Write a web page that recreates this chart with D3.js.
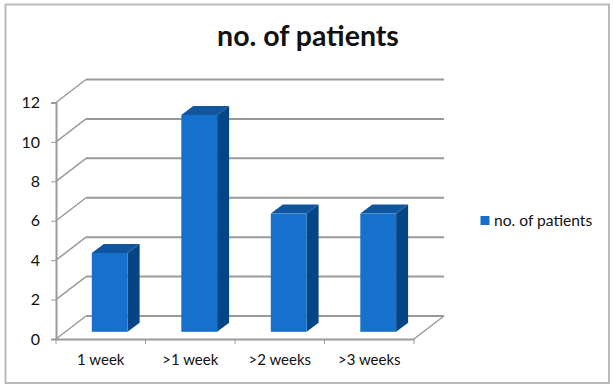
<!DOCTYPE html>
<html>
<head>
<meta charset="utf-8">
<script src="https://cdnjs.cloudflare.com/ajax/libs/d3/7.8.5/d3.min.js"></script>
<style>
html, body { margin: 0; padding: 0; background: #fff; }
svg { display: block; }
text { font-family: Lato, "Open Sans", sans-serif; fill: #111; }
</style>
</head>
<body>
<div id="chart"></div>
<script>
var categories = ["1 week", ">1 week", ">2 weeks", ">3 weeks"];
var patients = [4, 11, 6, 6];
var yTicks = [0, 2, 4, 6, 8, 10, 12];
var seriesName = "no. of patients";

var width = 613, height = 388;
var svg = d3.select("#chart").append("svg")
    .attr("width", width)
    .attr("height", height);

// frame round the chart
svg.append("rect")
    .attr("x", 5.5).attr("y", 4.5)
    .attr("width", 603.5).attr("height", 378.5)
    .attr("fill", "#fff")
    .attr("stroke", "#b9b9b9")
    .attr("stroke-width", 2);

svg.append("text")
    .attr("x", 308).attr("y", 46)
    .attr("text-anchor", "middle")
    .style("font-size", "28.5px")
    .style("font-weight", "700")
    .text(seriesName);

var x = d3.scaleBand().domain(categories).range([56, 414]);
var y = d3.scaleLinear().domain([0, 12]).range([339, 102.5]);

// depth of the box and of the bars
var depthX = 30, depthY = -23;
var barDepthX = 12, barDepthY = -9;
var floorX = 10, floorY = -7.2;

var grid = svg.append("g")
    .attr("fill", "none")
    .attr("stroke", "#9a9a9a")
    .attr("stroke-width", 2);

// floor edge on the right
grid.append("path")
    .attr("stroke-width", 1.5)
    .attr("d", d3.line()([[414, y(0)], [414 + depthX, y(0) + depthY]]));

yTicks.forEach(function(t) {
  // back wall line and the diagonal on the side wall
  grid.append("path")
    .attr("d", d3.line()([[56 + depthX, y(t) + depthY], [414 + depthX, y(t) + depthY]]));
  grid.append("path")
    .attr("stroke-width", 1.5)
    .attr("d", d3.line()([[56, y(t)], [56 + depthX, y(t) + depthY]]));
});

// axes
var yAxis = svg.append("g")
    .attr("transform", "translate(56,0)")
    .call(d3.axisLeft(y).tickValues(yTicks).tickSize(5).tickPadding(11));
yAxis.selectAll("text").style("font-size", "16px").attr("fill", "#111");
yAxis.selectAll("line").attr("stroke", "#9a9a9a");
yAxis.select(".domain").attr("stroke", "#9a9a9a").attr("stroke-width", 2);

var xAxis = svg.append("g")
    .attr("transform", "translate(0," + y(0) + ")")
    .call(d3.axisBottom(x).tickSize(0).tickPadding(15));
xAxis.selectAll("text").style("font-size", "15px").attr("fill", "#111");
xAxis.select(".domain").attr("stroke", "#9a9a9a").attr("stroke-width", 2);

// ticks sit between the categories
var edges = categories.map(function(c) { return x(c); }).concat([x.range()[1]]);
xAxis.selectAll(".edge").data(edges).enter().append("line")
    .attr("class", "edge")
    .attr("x1", function(d) { return d; })
    .attr("x2", function(d) { return d; })
    .attr("y1", 0).attr("y2", 5)
    .attr("stroke", "#9a9a9a");

// bars
var barW = x.step() * 0.4;
var bars = svg.append("g").selectAll("g")
    .data(patients)
    .enter().append("g");

function barLeft(i) { return x(categories[i]) + x.step() * 0.4; }
function barBase() { return y(0) + floorY; }
function barTop(d) { return y(d) + floorY; }

bars.append("path")
    .attr("fill", "#044586")
    .attr("d", function(d, i) {
      var r = barLeft(i) + barW;
      return d3.line()([[r, barTop(d)], [r + barDepthX, barTop(d) + barDepthY],
        [r + barDepthX, barBase() + barDepthY], [r, barBase()]]) + "Z";
    });

bars.append("path")
    .attr("fill", "#0f569f")
    .attr("d", function(d, i) {
      var l = barLeft(i);
      return d3.line()([[l, barTop(d)], [l + barDepthX, barTop(d) + barDepthY],
        [l + barW + barDepthX, barTop(d) + barDepthY], [l + barW, barTop(d)]]) + "Z";
    });

bars.append("rect")
    .attr("fill", "#1571cb")
    .attr("x", function(d, i) { return barLeft(i); })
    .attr("y", function(d) { return barTop(d); })
    .attr("width", barW)
    .attr("height", function(d) { return barBase() - barTop(d); });

// legend
svg.append("rect")
    .attr("x", 480.5).attr("y", 216)
    .attr("width", 9).attr("height", 9)
    .attr("fill", "#1571cb");
svg.append("text")
    .attr("x", 494).attr("y", 225.5)
    .style("font-size", "15.6px")
    .text(seriesName);
</script>
</body>
</html>
